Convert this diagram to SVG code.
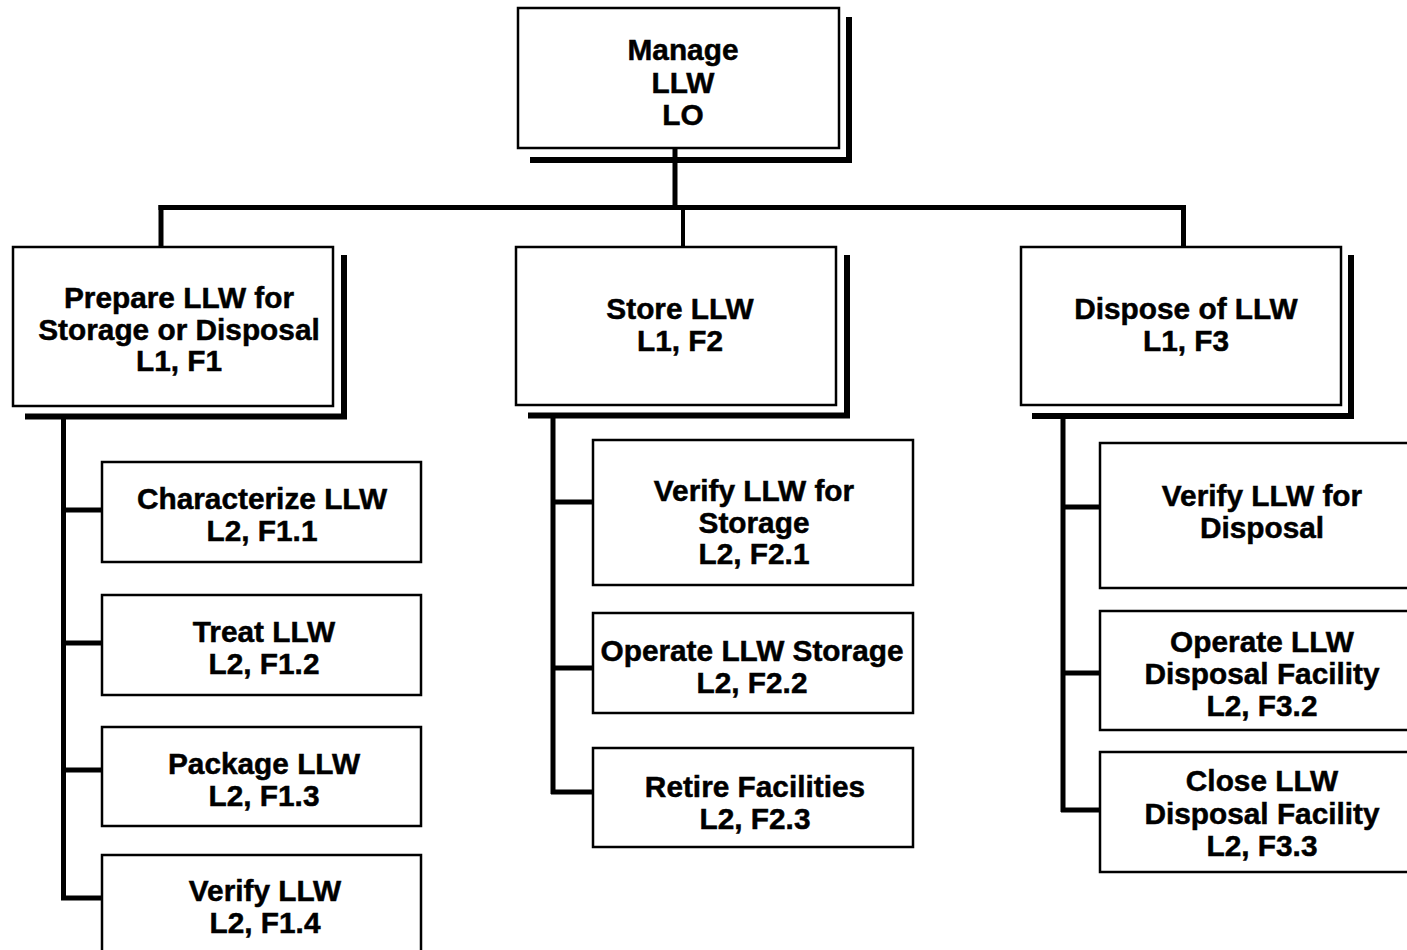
<svg xmlns="http://www.w3.org/2000/svg" width="1407" height="950" viewBox="0 0 1407 950">
  <style>
    .box { fill: #ffffff; stroke: #000000; stroke-width: 2.5; }
    .shadow { fill: none; stroke: #000000; stroke-width: 6; stroke-linejoin: miter; }
    .link { fill: none; stroke: #000000; stroke-width: 5; stroke-linecap: butt; }
    .lbl { font-family: "Liberation Sans", Arial, Helvetica, sans-serif; font-weight: bold; font-size: 29.8px; fill: #000000; stroke: #000000; stroke-width: 0.5; text-anchor: middle; }
  </style>
  <rect width="1407" height="950" fill="#ffffff"/>

  <!-- connectors -->
  <g id="connectors">
    <!-- root to bus -->
    <line class="link" x1="675" y1="148" x2="675" y2="208"/>
    <!-- main bus -->
    <line class="link" x1="158.5" y1="207.5" x2="1186" y2="207.5"/>
    <line class="link" x1="161" y1="205" x2="161" y2="247"/>
    <line class="link" x1="683" y1="205" x2="683" y2="247" style="stroke-width:4"/>
    <line class="link" x1="1183.5" y1="205" x2="1183.5" y2="247"/>
    <!-- F1 trunk and branches -->
    <line class="link" x1="63.5" y1="418" x2="63.5" y2="900"/>
    <line class="link" x1="61" y1="510" x2="102" y2="510"/>
    <line class="link" x1="61" y1="643" x2="102" y2="643"/>
    <line class="link" x1="61" y1="770" x2="102" y2="770"/>
    <line class="link" x1="61" y1="898" x2="102" y2="898"/>
    <!-- F2 trunk and branches -->
    <line class="link" x1="553" y1="418" x2="553" y2="794"/>
    <line class="link" x1="551" y1="502" x2="593" y2="502"/>
    <line class="link" x1="551" y1="668" x2="593" y2="668"/>
    <line class="link" x1="551" y1="792" x2="593" y2="792"/>
    <!-- F3 trunk and branches -->
    <line class="link" x1="1063" y1="418" x2="1063" y2="812"/>
    <line class="link" x1="1061" y1="507" x2="1100" y2="507"/>
    <line class="link" x1="1061" y1="673" x2="1100" y2="673"/>
    <line class="link" x1="1061" y1="810" x2="1100" y2="810"/>
  </g>

  <!-- level 0 -->
  <g id="node-L0">
    <polyline class="shadow" points="530,160 849,160 849,17"/>
    <rect class="box" x="518" y="8" width="321" height="140"/>
    <text class="lbl" x="683" y="60">Manage</text>
    <text class="lbl" x="683" y="92.5">LLW</text>
    <text class="lbl" x="683" y="124.5">LO</text>
  </g>

  <!-- level 1 -->
  <g id="node-F1">
    <polyline class="shadow" points="25,416.5 344,416.5 344,255"/>
    <rect class="box" x="13" y="247" width="320" height="159"/>
    <text class="lbl" x="179" y="307.5">Prepare LLW for</text>
    <text class="lbl" x="179" y="339.5">Storage or Disposal</text>
    <text class="lbl" x="179" y="370.5">L1, F1</text>
  </g>
  <g id="node-F2">
    <polyline class="shadow" points="528,415.5 847,415.5 847,255"/>
    <rect class="box" x="516" y="247" width="320" height="158"/>
    <text class="lbl" x="680" y="318.5">Store LLW</text>
    <text class="lbl" x="680" y="350.5">L1, F2</text>
  </g>
  <g id="node-F3">
    <polyline class="shadow" points="1032,416 1351,416 1351,255"/>
    <rect class="box" x="1021" y="247" width="320" height="158"/>
    <text class="lbl" x="1186" y="318.5">Dispose of LLW</text>
    <text class="lbl" x="1186" y="350.5">L1, F3</text>
  </g>

  <!-- level 2 under F1 -->
  <g id="node-F1-1">
    <rect class="box" x="102" y="462" width="319" height="100"/>
    <text class="lbl" x="262" y="508.5">Characterize LLW</text>
    <text class="lbl" x="262" y="540.5">L2, F1.1</text>
  </g>
  <g id="node-F1-2">
    <rect class="box" x="102" y="595" width="319" height="100"/>
    <text class="lbl" x="264" y="641.5">Treat LLW</text>
    <text class="lbl" x="264" y="673.5">L2, F1.2</text>
  </g>
  <g id="node-F1-3">
    <rect class="box" x="102" y="727" width="319" height="99"/>
    <text class="lbl" x="264" y="773.5">Package LLW</text>
    <text class="lbl" x="264" y="805.5">L2, F1.3</text>
  </g>
  <g id="node-F1-4">
    <rect class="box" x="102" y="855" width="319" height="110"/>
    <text class="lbl" x="265" y="900.5">Verify LLW</text>
    <text class="lbl" x="265" y="932.5">L2, F1.4</text>
  </g>

  <!-- level 2 under F2 -->
  <g id="node-F2-1">
    <rect class="box" x="593" y="440" width="320" height="145"/>
    <text class="lbl" x="754" y="500.5">Verify LLW for</text>
    <text class="lbl" x="754" y="532.5">Storage</text>
    <text class="lbl" x="754" y="563.5">L2, F2.1</text>
  </g>
  <g id="node-F2-2">
    <rect class="box" x="593" y="613" width="320" height="100"/>
    <text class="lbl" x="752" y="660.5">Operate LLW Storage</text>
    <text class="lbl" x="752" y="692.5">L2, F2.2</text>
  </g>
  <g id="node-F2-3">
    <rect class="box" x="593" y="748" width="320" height="99"/>
    <text class="lbl" x="755" y="796.5">Retire Facilities</text>
    <text class="lbl" x="755" y="828.5">L2, F2.3</text>
  </g>

  <!-- level 2 under F3 -->
  <g id="node-F3-1">
    <rect class="box" x="1100" y="443" width="330" height="145"/>
    <text class="lbl" x="1262" y="505.5">Verify LLW for</text>
    <text class="lbl" x="1262" y="537.5">Disposal</text>
  </g>
  <g id="node-F3-2">
    <rect class="box" x="1100" y="611" width="330" height="119"/>
    <text class="lbl" x="1262" y="651.5">Operate LLW</text>
    <text class="lbl" x="1262" y="683.5">Disposal Facility</text>
    <text class="lbl" x="1262" y="715.5">L2, F3.2</text>
  </g>
  <g id="node-F3-3">
    <rect class="box" x="1100" y="752" width="330" height="120"/>
    <text class="lbl" x="1262" y="790.5">Close LLW</text>
    <text class="lbl" x="1262" y="823.5">Disposal Facility</text>
    <text class="lbl" x="1262" y="855.5">L2, F3.3</text>
  </g>
</svg>
